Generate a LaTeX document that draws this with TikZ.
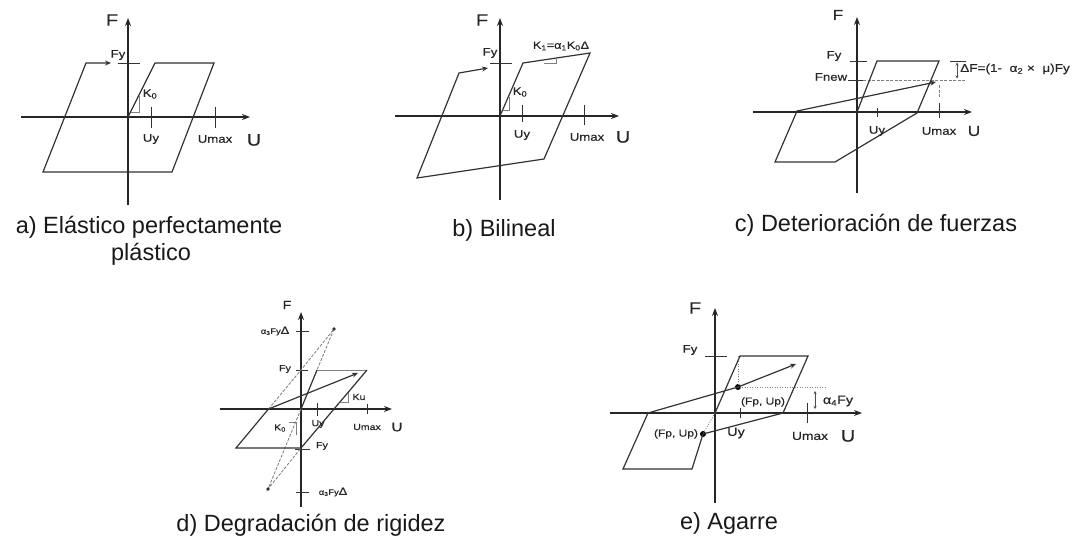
\documentclass[tikz,border=0pt]{standalone}
\usepackage{fontspec}
\setmainfont{Liberation Sans}
\newfontfamily\labfont[FakeStretch=1.2,FakeBold=0.5]{Liberation Sans}
\usetikzlibrary{arrows.meta}
\begin{document}
\begin{tikzpicture}[x=1pt,y=-1pt,
  ax/.style={draw=black!85, line width=1.4pt, -{Stealth[length=8pt,width=6pt]}},
  tk/.style={draw=black!80, line width=0.9pt},
  curve/.style={draw=black!80, line width=1.2pt, line join=miter},
  tipp/.style={-{Stealth[length=6pt,width=5pt]}},
  lite/.style={draw=black!50, line width=0.8pt},
  dsh/.style={draw=black!50, line width=0.85pt, dash pattern=on 3pt off 1.5pt},
  dotl/.style={draw=black!50, line width=0.8pt, dash pattern=on 1pt off 1.5pt},
  dbl/.style={draw=black!70, line width=0.8pt, {Stealth[length=3pt,width=3pt]}-{Stealth[length=3pt,width=3pt]}},
  lbl/.style={inner sep=0pt, text=black!85, font=\labfont\fontsize{11}{12}\selectfont},
  sml/.style={inner sep=0pt, text=black!85, font=\labfont\fontsize{8.8}{10}\selectfont},
  tny/.style={inner sep=0pt, text=black!85, font=\labfont\fontsize{7.8}{9}\selectfont},
  big/.style={inner sep=0pt, text=black!85, font=\labfont\fontsize{16.5}{18}\selectfont},
  captxt/.style={inner sep=0pt, text=black!90, font=\fontsize{23.5}{26}\selectfont},
  pnt/.style={circle, fill=black, inner sep=0pt, minimum size=6pt},
]
\useasboundingbox (0,0) rectangle (1081,538);

% ---------------- panel a ----------------
\coordinate (aO) at (128,117);
\coordinate (aXl) at (21,117); \coordinate (aXr) at (250,117);
\coordinate (aYt) at (128,18); \coordinate (aYb) at (128,205);
\draw[ax] (aXl) -- (aXr);
\draw[ax] (aYb) -- (aYt);
\node[big] (aF) at (112,20) {F};
\node[lbl] (aFy) at (118,55) {Fy};
\draw[tk] (118,63) -- (140,63);
\coordinate (aA) at (155,63); \coordinate (aB) at (214,63);
\coordinate (aC) at (172,172); \coordinate (aD) at (43,172);
\coordinate (aE) at (86,63); \coordinate (aG) at (111,63);
\draw[curve,tipp] (aO) -- (aA) -- (aB) -- (aC) -- (aD) -- (aE) -- (aG);
\draw[lite] (131,112) -- (139,112) -- (139,96);
\node[lbl] (aK) at (150,94) {K\textsubscript{0}};
\draw[tk] (151,107) -- (151,128);
\node[lbl] (aUy) at (151,139) {Uy};
\draw[tk] (215,107) -- (215,128);
\node[lbl] (aUm) at (215,139) {Umax};
\node[big] (aU) at (254,140) {U};
\node[captxt] (aCap1) at (149,227) {a) Elástico perfectamente};
\node[captxt] (aCap2) at (151,254) {plástico};

% ---------------- panel b ----------------
\coordinate (bO) at (500,116);
\draw[ax] (395,116) -- (619,116);
\draw[ax] (500,200) -- (500,18);
\node[big] (bF) at (482,20) {F};
\node[lbl] (bFy) at (490,53) {Fy};
\draw[tk] (490,63) -- (512,63);
\coordinate (bA) at (523,63); \coordinate (bB) at (590,53);
\coordinate (bC) at (544,159); \coordinate (bD) at (417,178);
\coordinate (bE) at (459,73); \coordinate (bG) at (488,68);
\draw[curve,tipp] (bO) -- (bA) -- (bB) -- (bC) -- (bD) -- (bE) -- (bG);
\node[inner sep=0pt, text=black!85, font=\labfont\fontsize{10.5}{11}\selectfont] (bK1) at (561,46) {K\textsubscript{1}=α\textsubscript{1}K\textsubscript{0}Δ};
\draw[lite] (544,63) -- (556,63) -- (556,58.5);
\draw[lite] (503,110) -- (509,110) -- (509,97);
\node[lbl] (bK) at (520,92) {K\textsubscript{0}};
\draw[tk] (522,105) -- (522,122);
\node[lbl] (bUy) at (522,135) {Uy};
\draw[tk] (584,105) -- (584,125);
\node[lbl] (bUm) at (587,137) {Umax};
\node[big] (bU) at (623,137) {U};
\node[captxt] (bCap) at (504,230) {b) Bilineal};

% ---------------- panel c ----------------
\coordinate (cO) at (857,112);
\draw[ax] (753,112) -- (972,112);
\draw[ax] (857,193) -- (857,17);
\node[inner sep=0pt, text=black!85, font=\labfont\fontsize{14.5}{16}\selectfont] (cF) at (838,15) {F};
\node[lbl] (cFy) at (834,56) {Fy};
\draw[tk] (850,61) -- (867,61);
\node[lbl] (cFn) at (831,77) {Fnew};
\draw[tk] (848,80) -- (863,80);
\draw[dsh] (863,80) -- (965,80);
\coordinate (cA) at (877,61); \coordinate (cB) at (939,61);
\coordinate (cC) at (917,113); \coordinate (cD) at (835,162);
\coordinate (cE) at (775,162); \coordinate (cG) at (797,111);
\coordinate (cH) at (936,82);
\draw[curve,tipp] (cO) -- (cA) -- (cB) -- (cC) -- (cD) -- (cE) -- (cG) -- (cH);
\draw[dsh] (939,85) -- (939,98);
\draw[tk] (950,61) -- (966,61);
\draw[dbl] (957,62.5) -- (957,78.5);
\node[inner sep=0pt, anchor=west, text=black!85, font=\labfont\fontsize{11.3}{12}\selectfont] (cDF) at (960,69) {ΔF=(1-~~α\textsubscript{2}~×~~μ)Fy};
\draw[tk] (877,108) -- (877,117);
\node[lbl] (cUy) at (877,131) {Uy};
\draw[tk] (939,103) -- (939,118);
\node[lbl] (cUm) at (939,131) {Umax};
\node[inner sep=0pt, text=black!85, font=\labfont\fontsize{14.5}{16}\selectfont] (cU) at (974,131) {U};
\node[captxt] (cCap) at (876,225) {c) Deterioración de fuerzas};

% ---------------- panel d ----------------
\coordinate (dO) at (301,409);
\draw[ax] (220,409) -- (392,409);
\draw[ax] (301,507) -- (301,312);
\node[inner sep=0pt, text=black!85, font=\labfont\fontsize{12}{13}\selectfont] (dF) at (287,305) {F};
\draw[tk] (296,331) -- (309,331);
\node[tny] (dA3t) at (275,331) {α\textsubscript{3}Fy{\fontsize{10.5}{10}\selectfont Δ}};
\draw[tk] (296,370) -- (308,370);
\node[sml] (dFyt) at (285,369) {Fy};
\draw[tk] (295,449) -- (310,449);
\node[sml] (dFyb) at (322,446) {Fy};
\draw[tk] (296,492) -- (309,492);
\node[tny] (dA3b) at (333,492) {α\textsubscript{3}Fy{\fontsize{10.5}{10}\selectfont Δ}};
\coordinate (dT) at (334,329); \coordinate (dB) at (268,489);
\coordinate (dTL) at (301,370); \coordinate (dK) at (317,370);
\coordinate (dTR) at (367,370); \coordinate (dBR) at (301,448);
\coordinate (dBL) at (236,448); \coordinate (dP1) at (268.5,409);
\coordinate (dAr) at (358,373);
\draw[dsh] (dP1) -- (dTL) -- (dT) -- (dK);
\draw[dsh] (dO) -- (dB) -- (dBR);
\draw[lite] (dK) -- (dTR);
\draw[curve] (dTR) -- (dBR) -- (dBL) -- (dP1);
\draw[curve,tipp] (dP1) -- (dAr);
\draw[curve] (dO) -- (dK);
\fill[black!80] (dT) circle (1.8);
\fill[black!80] (dB) circle (1.8);
\draw[lite] (340,402) -- (348,402) -- (348,393);
\node[sml] (dKu) at (359,397) {Ku};
\draw[lite] (289,422) -- (296,422) -- (296,435);
\node[sml] (dK0) at (280,428) {K\textsubscript{0}};
\draw[tk] (317,403) -- (317,416);
\node[sml] (dUy) at (318,424) {Uy};
\draw[tk] (367,404) -- (367,414);
\node[sml] (dUm) at (367,427) {Umax};
\node[inner sep=0pt, text=black!85, font=\labfont\fontsize{12.5}{14}\selectfont] (dU) at (397,427) {U};
\node[captxt] (dCap) at (311,525) {d) Degradación de rigidez};

% ---------------- panel e ----------------
\coordinate (eO) at (715,413);
\draw[ax] (610,413) -- (862,413);
\draw[ax] (715,503) -- (715,308);
\node[big] (eF) at (695,308) {F};
\draw[tk] (705,356) -- (727,356);
\node[lbl] (eFy) at (690,350) {Fy};
\coordinate (eTL) at (740,356); \coordinate (eTR) at (808,356);
\coordinate (eR0) at (783,413); \coordinate (eBR) at (692,469);
\coordinate (eBL) at (623,469); \coordinate (eL0) at (648,413);
\coordinate (eAT) at (796,364);
\node[pnt] (eUD) at (738,387) {};
\node[pnt] (eLD) at (703,434) {};
\draw[dotl] (eO) -- (eLD.center);
\draw[dotl] (738,356) -- (eUD.center) -- (827,387);
\draw[curve] (eO) -- (eTL) -- (eTR) -- (eR0) -- (eLD.center) -- (eBR) -- (eBL) -- (eL0) -- (eUD.center);
\draw[curve,tipp] (eUD.center) -- (eAT);
\draw[dbl] (815,391) -- (815,409);
\node[inner sep=0pt, text=black!85, font=\labfont\fontsize{12}{13}\selectfont] (eA4) at (838,401) {α\textsubscript{4}Fy};
\node[inner sep=0pt, text=black!85, font=\labfont\fontsize{10}{11}\selectfont] (eFp1) at (763,402) {(Fp, Up)};
\node[inner sep=0pt, text=black!85, font=\labfont\fontsize{10}{11}\selectfont] (eFp2) at (676,434) {(Fp, Up)};
\draw[tk] (740,408) -- (740,418);
\node[inner sep=0pt, text=black!85, font=\labfont\fontsize{12}{13}\selectfont] (eUy) at (736,433) {Uy};
\draw[tk] (807,403) -- (807,423);
\node[inner sep=0pt, text=black!85, font=\labfont\fontsize{11.5}{13}\selectfont] (eUm) at (810,436) {Umax};
\node[big] (eU) at (848,436) {U};
\node[captxt] (eCap) at (729,523) {e) Agarre};
\end{tikzpicture}
\end{document}
